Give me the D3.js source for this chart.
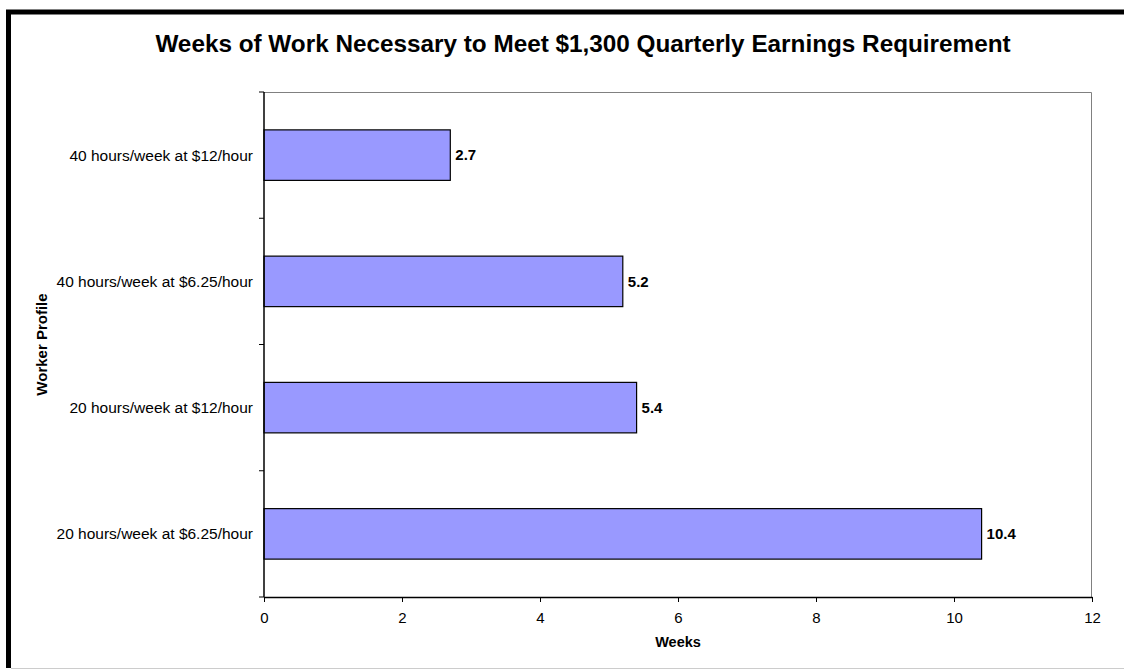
<!DOCTYPE html>
<html>
<head>
<meta charset="utf-8">
<script src="https://cdn.jsdelivr.net/npm/d3@7"></script>
<style>
  body { margin: 0; background: #fff; }
  text { font-family: "Liberation Sans", Arial, sans-serif; }
</style>
</head>
<body>
<div id="chart"></div>
<script>
// data, top to bottom
var profiles = ["40 hours/week at $12/hour", "40 hours/week at $6.25/hour", "20 hours/week at $12/hour", "20 hours/week at $6.25/hour"];
var weeks = [2.7, 5.2, 5.4, 10.4];
var xTicks = [0, 2, 4, 6, 8, 10, 12];

var W = 1124, H = 670;
var margin = {top: 92, left: 264, right: 32, bottom: 73};
var width = W - margin.left - margin.right,
    height = H - margin.top - margin.bottom;

var svg = d3.select("#chart").append("svg")
    .attr("width", W).attr("height", H);

// outer frame
svg.append("line").attr("x1", 6).attr("x2", W).attr("y1", 12).attr("y2", 12)
    .attr("stroke", "#000").attr("stroke-width", 5);
svg.append("line").attr("x1", 8.5).attr("x2", 8.5).attr("y1", 10).attr("y2", 668)
    .attr("stroke", "#000").attr("stroke-width", 5);
svg.append("line").attr("x1", 11).attr("x2", W).attr("y1", 668.5).attr("y2", 668.5)
    .attr("stroke", "#ccc").attr("stroke-width", 1);

svg.append("text")
    .attr("x", 583).attr("y", 52)
    .attr("text-anchor", "middle")
    .style("font-size", "24.3px").style("font-weight", "bold")
    .text("Weeks of Work Necessary to Meet $1,300 Quarterly Earnings Requirement");

var g = svg.append("g").attr("transform", "translate(" + margin.left + "," + margin.top + ")");

var x = d3.scaleLinear().domain([0, 12]).range([0, width]);
var y = d3.scaleBand().domain(profiles).range([0, height]).paddingInner(0.6).paddingOuter(0.3);

// plot frame (top/right gray)
g.append("path")
    .attr("d", "M0,0.5H" + (width - 0.5) + "V" + height)
    .attr("fill", "none").attr("stroke", "#808080");

g.selectAll("rect.bar")
    .data(weeks)
    .enter().append("rect")
    .attr("class", "bar")
    .attr("x", x(0))
    .attr("y", function (d, i) { return y(profiles[i]); })
    .attr("width", function (d) { return x(d) - x(0); })
    .attr("height", y.bandwidth())
    .attr("fill", "#9999ff")
    .attr("stroke", "#000").attr("stroke-width", 1.2);

g.selectAll("text.val")
    .data(weeks)
    .enter().append("text")
    .attr("class", "val")
    .attr("x", function (d) { return x(d) + 5; })
    .attr("y", function (d, i) { return y(profiles[i]) + y.bandwidth() / 2; })
    .attr("dy", "0.35em")
    .style("font-size", "15px").style("font-weight", "bold")
    .text(function (d) { return d; });

// x axis
var xAxis = g.append("g")
    .attr("transform", "translate(0," + height + ")")
    .call(d3.axisBottom(x).tickValues(xTicks).tickSize(5).tickSizeOuter(0).tickPadding(10));
xAxis.selectAll("text").style("font-size", "15px").attr("fill", "#000");
xAxis.select(".domain").attr("stroke", "#000").attr("stroke-width", 1.5);

// y axis: ticks sit between categories
var step = height / profiles.length;
var yAxis = g.append("g");
yAxis.append("line").attr("x1", 0).attr("x2", 0).attr("y1", 0).attr("y2", height)
    .attr("stroke", "#000").attr("stroke-width", 1.5);
yAxis.selectAll("line.tick")
    .data(d3.range(profiles.length + 1))
    .enter().append("line")
    .attr("class", "tick")
    .attr("x1", -5).attr("x2", 0)
    .attr("y1", function (d) { return d * step; })
    .attr("y2", function (d) { return d * step; })
    .attr("stroke", "#000");
yAxis.selectAll("text")
    .data(profiles)
    .enter().append("text")
    .attr("x", -11)
    .attr("y", function (d) { return y(d) + y.bandwidth() / 2; })
    .attr("dy", "0.35em")
    .attr("text-anchor", "end")
    .style("font-size", "15.5px")
    .text(function (d) { return d; });

svg.append("text")
    .attr("x", margin.left + width / 2).attr("y", 647)
    .attr("text-anchor", "middle")
    .style("font-size", "14.5px").style("font-weight", "bold")
    .text("Weeks");

svg.append("text")
    .attr("transform", "translate(47," + (margin.top + height / 2) + ") rotate(-90)")
    .attr("text-anchor", "middle")
    .style("font-size", "15px").style("font-weight", "bold")
    .text("Worker Profile");
</script>
</body>
</html>
